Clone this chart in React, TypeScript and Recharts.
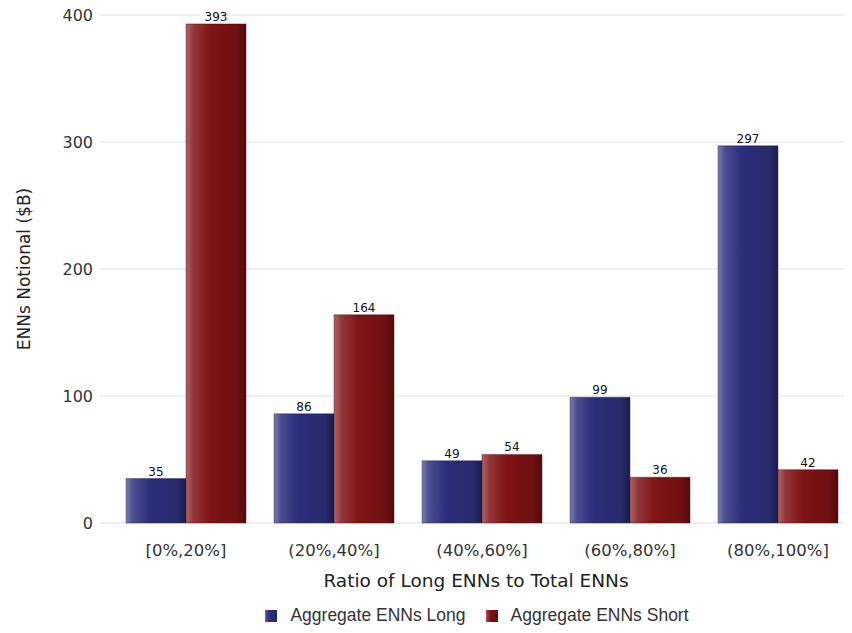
import { BarChart, Bar, XAxis, YAxis, CartesianGrid, Legend, LabelList } from 'recharts';

const categories = ['[0%,20%]', '(20%,40%]', '(40%,60%]', '(60%,80%]', '(80%,100%]'];
const longValues = [35, 86, 49, 99, 297];
const shortValues = [393, 164, 54, 36, 42];
const yTicks = [0, 100, 200, 300, 400];

const data = categories.map((c, i) => ({
  name: c,
  long: longValues[i],
  short: shortValues[i],
}));

const font = '"DejaVu Sans", Verdana, sans-serif';
const legendFont = '"Liberation Sans", Arial, sans-serif';

export default function App() {
  return (
    <div style={{ margin: -8, width: 852, height: 633, background: '#fff', fontFamily: font, overflow: 'hidden' }}>
      <BarChart
        width={852}
        height={633}
        data={data}
        margin={{ top: 15, right: 0, left: 0, bottom: 8 }}
        barCategoryGap={14}
        barGap={0}
      >
        <defs>
          <linearGradient id="gLong" x1="0" y1="0" x2="1" y2="0">
            <stop offset="0%" stopColor="#7a7cb0" />
            <stop offset="12%" stopColor="#4a4d90" />
            <stop offset="40%" stopColor="#2b2e7a" />
            <stop offset="85%" stopColor="#272a6c" />
            <stop offset="100%" stopColor="#1b1c4e" />
          </linearGradient>
          <linearGradient id="gShort" x1="0" y1="0" x2="1" y2="0">
            <stop offset="0%" stopColor="#b06466" />
            <stop offset="12%" stopColor="#93383b" />
            <stop offset="40%" stopColor="#801416" />
            <stop offset="85%" stopColor="#6e1012" />
            <stop offset="100%" stopColor="#520a0c" />
          </linearGradient>
        </defs>
        <CartesianGrid vertical={false} stroke="#e2e2e2" />
        <XAxis
          dataKey="name"
          padding={{ left: 12, right: 0 }}
          axisLine={false}
          tickLine={false}
          tick={{ fill: '#333', fontSize: 16.5, fontFamily: font }}
          tickMargin={15}
          height={82}
          label={{ value: 'Ratio of Long ENNs to Total ENNs', position: 'insideBottom', offset: 18, fill: '#222', fontSize: 18.5, fontFamily: font }}
        />
        <YAxis
          domain={[0, 400]}
          ticks={yTicks}
          axisLine={false}
          tickLine={false}
          width={100}
          tickMargin={1}
          tick={{ fill: '#333', fontSize: 16, fontFamily: font }}
          label={{ value: 'ENNs Notional ($B)', angle: -90, position: 'insideLeft', offset: 24, style: { textAnchor: 'middle' }, fill: '#222', fontSize: 17, fontFamily: font }}
        />
        <Legend
          verticalAlign="bottom"
          iconType="square"
          iconSize={12}
          wrapperStyle={{ left: 122, width: 730, fontSize: 17.5, lineHeight: '20px', fontFamily: legendFont, color: '#333' }}
          formatter={(v) => <span style={{ color: '#333', paddingLeft: 9, paddingRight: 10 }}>{v}</span>}
        />
        <Bar dataKey="long" name="Aggregate ENNs Long" fill="url(#gLong)" stroke="#1a1a40" strokeOpacity={0.4} isAnimationActive={false} legendType="square">
          <LabelList dataKey="long" position="top" offset={3} fill="#111" fontSize={12} fontFamily={font} />
        </Bar>
        <Bar dataKey="short" name="Aggregate ENNs Short" fill="url(#gShort)" stroke="#3a0808" strokeOpacity={0.4} isAnimationActive={false} legendType="square">
          <LabelList dataKey="short" position="top" offset={3} fill="#111" fontSize={12} fontFamily={font} />
        </Bar>
      </BarChart>
    </div>
  );
}
